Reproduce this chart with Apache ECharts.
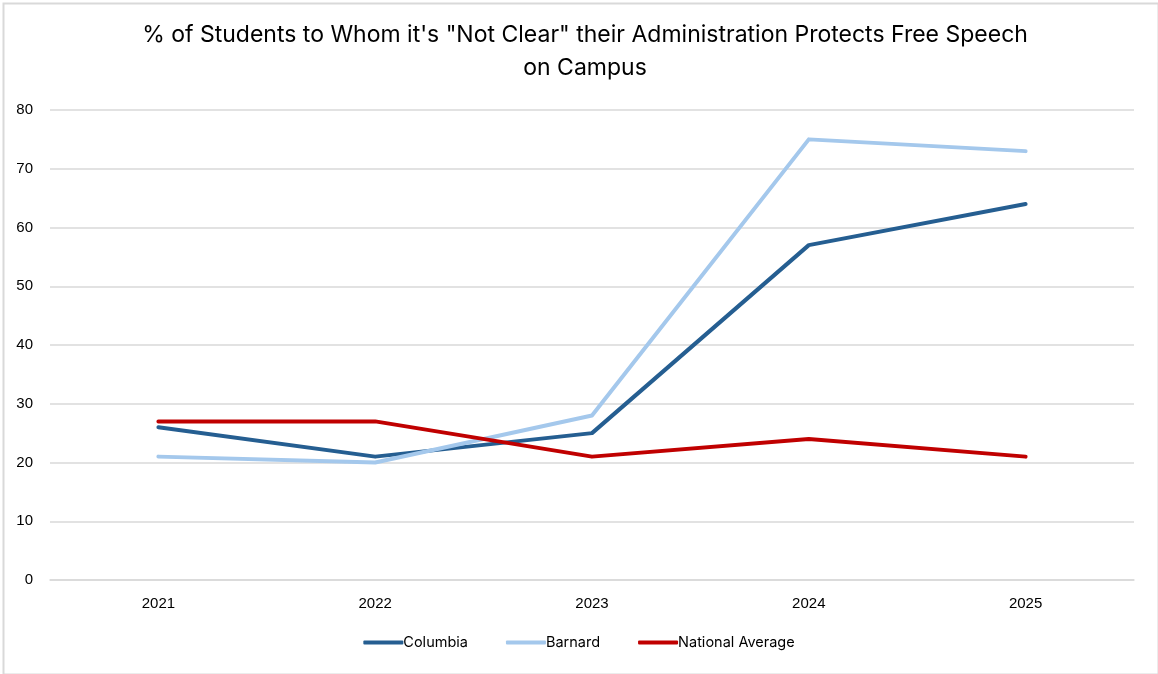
<!DOCTYPE html>
<html><head><meta charset="utf-8">
<script src="https://cdn.jsdelivr.net/npm/echarts@6/dist/echarts.min.js"></script>
<style>html,body{margin:0;padding:0;background:#fff}#c{width:1158px;height:674px}</style>
</head><body><div id="c"></div>
<script>
const years = ['2021','2022','2023','2024','2025'];
const columbia = [26, 21, 25, 57, 64];
const barnard = [21, 20, 28, 75, 73];
const national = [27, 27, 21, 24, 21];
const seriesNames = ['Columbia','Barnard','National Average'];
const colors = ['#255e91','#a4c8ec','#c00000'];
const chart = echarts.init(document.getElementById('c'));
const mk = (name, data, color) => ({
  name, type:'line', data, symbol:'none', smooth:false,
  lineStyle:{width:4, color, cap:'round', join:'round'}, itemStyle:{color}
});
chart.setOption({
  animation:false,
  title:{text:'% of Students to Whom it\'s "Not Clear" their Administration Protects Free Speech\non Campus',
    left:580, textAlign:'center', top:14,
    textStyle:{fontFamily:'Inter, Liberation Sans, sans-serif', fontSize:23, fontWeight:'normal', color:'#000', lineHeight:33}},
  graphic:[{type:'rect', left:1, top:1, shape:{width:1155, height:671}, style:{fill:'none', stroke:'#d9d9d9', lineWidth:2}, silent:true}],
  legend:{bottom:19, left:'center', itemWidth:40, itemHeight:4, itemGap:38,
    icon:'roundRect',
    textStyle:{fontFamily:'Inter, Liberation Sans, sans-serif', fontSize:14.5, color:'#000', padding:[0,0,0,-5]},
    data:seriesNames},
  grid:{left:50, right:24, top:110, bottom:94},
  xAxis:{type:'category', data:years, boundaryGap:true,
    axisLine:{show:true, lineStyle:{color:'#d9d9d9', width:1.5}}, axisTick:{show:false},
    axisLabel:{margin:16, fontFamily:'Liberation Sans, Arial, sans-serif', fontSize:15, color:'#000'}},
  yAxis:{type:'value', min:0, max:80, interval:10,
    axisLine:{show:false}, axisTick:{show:false},
    splitLine:{lineStyle:{color:'#d9d9d9', width:1.5}},
    axisLabel:{margin:17, fontFamily:'Liberation Sans, Arial, sans-serif', fontSize:15, color:'#000'}},
  series:[mk(seriesNames[0], columbia, colors[0]), mk(seriesNames[1], barnard, colors[1]), mk(seriesNames[2], national, colors[2])]
});
</script></body></html>
